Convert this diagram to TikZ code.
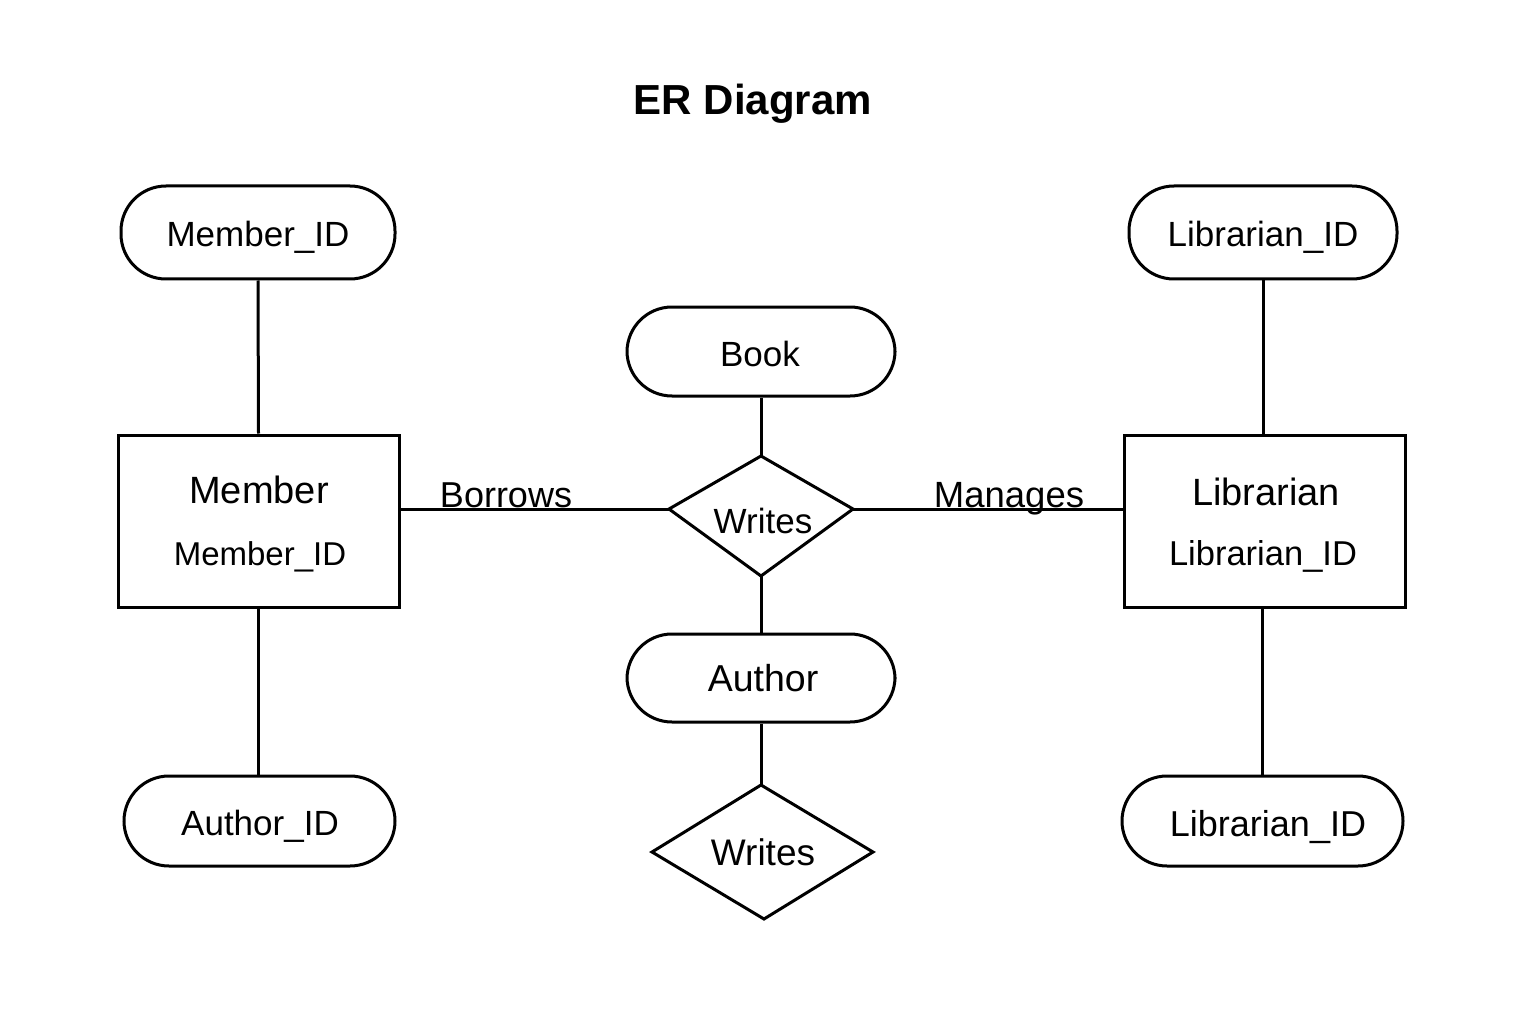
\documentclass[tikz,border=0pt]{standalone}
\usepackage{fontspec}
\setmainfont{Liberation Sans}
\newcommand{\fsz}[1]{\fontsize{#1}{#1}\selectfont}
\begin{document}
\begin{tikzpicture}[x=1pt,y=-1pt,
  ln/.style={line width=3pt, line join=miter},
  pill/.style={draw, ln, rounded corners=45pt, inner sep=0pt},
  entity/.style={draw, ln, inner sep=0pt},
  lbl/.style={anchor=base, inner sep=0pt, font=\fsz{35}},
]
\useasboundingbox (0,0) rectangle (1536,1024);
\fill[white] (0,0) rectangle (1536,1024);

% title
\node[anchor=base, inner sep=0pt, font=\fsz{42}\bfseries] (title) at (753,115) {ER Diagram};

% attribute pills
\node[pill, minimum width=274pt, minimum height=93pt] (midT) at (258,232.5) {};
\node[pill, minimum width=268pt, minimum height=93pt] (libT) at (1263,232.5) {};
\node[pill, minimum width=268pt, minimum height=89pt] (book) at (761,351.5) {};
\node[pill, minimum width=268pt, minimum height=88pt] (author) at (761,678) {};
\node[pill, minimum width=271pt, minimum height=90pt] (aid) at (259.5,821) {};
\node[pill, minimum width=281pt, minimum height=90pt] (libB) at (1262.5,821) {};

% entities
\node[entity, minimum width=281pt, minimum height=172pt] (member) at (258.5,521) {};
\node[entity, minimum width=281pt, minimum height=172pt] (librarian) at (1264.5,521) {};

% relationship diamonds
\coordinate (wT) at (761,456);
\coordinate (wR) at (853,509);
\coordinate (wB) at (761,576);
\coordinate (wL) at (669,509);
\draw[ln] (wT) -- (wR) -- (wB) -- (wL) -- cycle;

\coordinate (vT) at (761,785);
\coordinate (vR) at (873,852);
\coordinate (vB) at (764,919);
\coordinate (vL) at (652,852);
\draw[ln] (vT) -- (vR) -- (vB) -- (vL) -- cycle;

% connectors
\draw[ln] (midT.south) -- (member.north);
\draw[ln] (member.south) -- (aid.north -| member.south);
\draw[ln] (libT.south) -- (libT.south |- librarian.north);
\draw[ln] (librarian.south -| libB.north) -- (libB.north);
\draw[ln] (book.south) -- (wT);
\draw[ln] (wB) -- (author.north);
\draw[ln] (author.south) -- (vT);
\draw[ln] (wL -| member.east) -- (wL);
\draw[ln] (wR) -- (wR -| librarian.west);

% texts
\node[lbl] (t1) at (258,247) {Member\_ID};
\node[lbl] (t2) at (1263,247) {Librarian\_ID};
\node[lbl] (t3) at (760,366) {Book};
\node[lbl, font=\fsz{38}] (t4) at (259,503) {Member};
\node[lbl, font=\fsz{33}] (t5) at (260,565) {Member\_ID};
\node[lbl, font=\fsz{38}] (t6) at (1266,505) {Librarian};
\node[lbl, font=\fsz{34.5}] (t7) at (1263,565) {Librarian\_ID};
\node[lbl, font=\fsz{36}] (t8) at (506,507) {Borrows};
\node[lbl, font=\fsz{36.5}] (t9) at (1009,507) {Manages};
\node[lbl] (t10) at (763,533) {Writes};
\node[lbl, font=\fsz{37.5}] (t11) at (763,691) {Author};
\node[lbl, font=\fsz{37}] (t12) at (763,865) {Writes};
\node[lbl] (t13) at (260,835) {Author\_ID};
\node[lbl, font=\fsz{36}] (t14) at (1268,836) {Librarian\_ID};
\end{tikzpicture}
\end{document}
